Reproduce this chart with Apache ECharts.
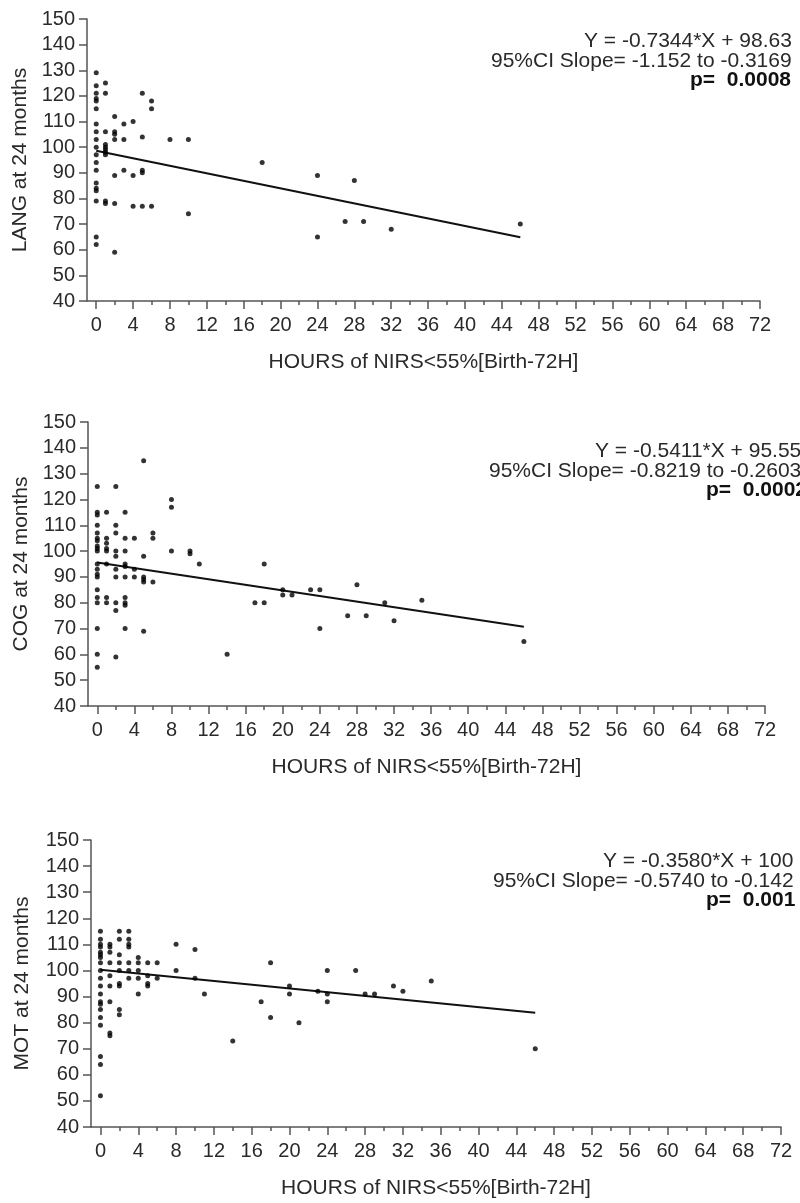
<!DOCTYPE html>
<html><head><meta charset="utf-8">
<script src="https://cdn.jsdelivr.net/npm/echarts@6/dist/echarts.min.js"></script>
<style>html,body{margin:0;padding:0;background:#fff}#c{width:800px;height:1203px}</style>
</head><body><div id="c"></div>
<script>
// ---- tick labels ----
const xMajorTicks = [0,4,8,12,16,20,24,28,32,36,40,44,48,52,56,60,64,68,72];
const xMinorTicks = [2,6,10,14,18,22,26,30,34,38,42,46,50,54,58,62,66,70];
const xAxisTitle = 'HOURS of NIRS<55%[Birth-72H]';
const yTitles = ['LANG at 24 months', 'COG at 24 months', 'MOT at 24 months'];

// ---- LANG panel: hours (x) and the scores observed at each hour ----
const langHours  = [0,1,2,3,4,5,6,8,10,18,24,27,28,29,32,46];
const langScores = [
  [129,124,121,119,118,115,109,106,103,100,97,94,91,86,84,83,79,65,62],
  [125,121,106,101,100,99,98,97,79,78],
  [112,106,105,103,89,78,59],
  [109,103,91],
  [110,89,77],
  [121,104,91,90,77],
  [118,115,77],
  [103],
  [103,74],
  [94],
  [89,65],
  [71],
  [87],
  [71],
  [68],
  [70]
];

// ---- COG panel ----
const cogHours  = [0,1,2,3,4,5,6,8,10,11,14,17,18,20,21,23,24,27,28,29,31,32,35,46];
const cogScores = [
  [125,115,114,110,107,105,104,102,101,100,95,93,91,90,85,82,80,70,60,55],
  [115,105,103,101,100,95,82,80],
  [125,110,107,100,98,93,90,80,77,59],
  [115,105,100,95,94,90,82,80,79,70],
  [105,93,90],
  [135,98,90,89,88,69],
  [107,105,88],
  [120,117,100],
  [100,99],
  [95],
  [60],
  [80],
  [95,80],
  [85,83],
  [83],
  [85],
  [85,70],
  [75],
  [87],
  [75],
  [80],
  [73],
  [81],
  [65]
];

// ---- MOT panel ----
const motHours  = [0,1,2,3,4,5,6,8,10,11,14,17,18,20,21,23,24,27,28,29,31,32,35,46];
const motScores = [
  [115,112,110,109,107,106,105,103,100,97,94,91,88,87,85,82,79,67,64,52],
  [110,109,107,103,98,94,88,76,75],
  [115,112,106,103,100,95,94,85,83],
  [115,112,110,109,103,100,97],
  [105,103,100,97,91],
  [103,98,95,94],
  [103,97],
  [110,100],
  [108,97],
  [91],
  [73],
  [88],
  [103,82],
  [94,91],
  [80],
  [92],
  [100,91,88],
  [100],
  [91],
  [91],
  [94],
  [92],
  [96],
  [70]
];

// ---- regression fits ----
const fitSlopes     = [-0.7344, -0.5411, -0.3580];
const fitIntercepts = [98.63, 95.55, 100.3];

// ---- annotation texts ----
const eqTexts    = ['Y = -0.7344*X + 98.63', 'Y = -0.5411*X + 95.55', 'Y = -0.3580*X + 100'];
const ciTexts    = ['95%CI Slope= -1.152 to -0.3169', '95%CI Slope= -0.8219 to -0.2603', '95%CI Slope= -0.5740 to -0.142'];
const pTexts     = ['p=  0.0008', 'p=  0.0002', 'p=  0.001'];

const FONT = '"Liberation Sans", Arial, Helvetica, sans-serif';
const AX = '#555';
const TXT = '#2a2a2a';

function pairs(hours, scores) {
  const out = [];
  hours.forEach((h, i) => scores[i].forEach(s => out.push([h, s])));
  return out;
}
const panels = [
  {hours: langHours, scores: langScores},
  {hours: cogHours, scores: cogScores},
  {hours: motHours, scores: motScores}
];

const grids = [
  {left: 87, top: 19, width: 673, height: 282},
  {left: 88, top: 422, width: 677, height: 284},
  {left: 91, top: 840, width: 690, height: 287}
];
const yNameGaps = [56, 56, 58];

const xAxes = [], yAxes = [], series = [];
grids.forEach((g, i) => {
  xAxes.push({
    gridIndex: i, type: 'value', min: -1, max: 72,
    axisLine: {show: true, onZero: false, lineStyle: {color: AX, width: 1.5}},
    axisTick: {show: true, customValues: xMajorTicks, length: 8, lineStyle: {color: AX, width: 1.5}},
    axisLabel: {customValues: xMajorTicks, fontSize: 20, color: TXT, margin: 14, fontFamily: FONT},
    splitLine: {show: false},
    name: xAxisTitle, nameLocation: 'middle', nameGap: 51,
    nameTextStyle: {fontSize: 21, color: TXT, fontFamily: FONT}
  });
  xAxes.push({
    gridIndex: i, type: 'value', min: -1, max: 72, position: 'bottom',
    axisLine: {show: false, onZero: false},
    axisTick: {show: true, customValues: xMinorTicks, length: 4, lineStyle: {color: AX, width: 1.5}},
    axisLabel: {show: false},
    splitLine: {show: false}
  });
  yAxes.push({
    gridIndex: i, type: 'value', min: 40, max: 150, interval: 10,
    axisLine: {show: true, onZero: false, lineStyle: {color: AX, width: 1.5}},
    axisTick: {show: true, length: 8, lineStyle: {color: AX, width: 1.5}},
    axisLabel: {fontSize: 20, color: TXT, margin: 12, fontFamily: FONT},
    splitLine: {show: false},
    name: yTitles[i], nameLocation: 'middle', nameGap: yNameGaps[i],
    nameTextStyle: {fontSize: 21, color: TXT, fontFamily: FONT}
  });
  const pts = pairs(panels[i].hours, panels[i].scores);
  series.push({
    type: 'scatter', xAxisIndex: i * 2, yAxisIndex: i,
    data: pts, symbol: 'circle', symbolSize: 5,
    itemStyle: {color: '#000'}, silent: true, z: 3
  });
  const hs = panels[i].hours;
  const x0 = Math.min(...hs), x1 = Math.max(...hs);
  series.push({
    type: 'line', xAxisIndex: i * 2, yAxisIndex: i,
    data: [[x0, fitIntercepts[i] + fitSlopes[i] * x0], [x1, fitIntercepts[i] + fitSlopes[i] * x1]],
    showSymbol: false, symbol: 'none',
    lineStyle: {color: '#111', width: 2}, silent: true, z: 2
  });
});

// annotation positions (left-aligned start x, first line centre y)
const annot = [
  {x1: 584, x2: 491, x3: 690, y: 41},
  {x1: 595, x2: 489, x3: 706, y: 451},
  {x1: 603, x2: 493, x3: 706, y: 861}
];
const graphics = [];
annot.forEach((a, i) => {
  graphics.push({type: 'text', style: {text: eqTexts[i], x: a.x1, y: a.y, font: '21px ' + FONT, fill: TXT, align: 'left', verticalAlign: 'middle'}});
  graphics.push({type: 'text', style: {text: ciTexts[i], x: a.x2, y: a.y + 20, font: '21px ' + FONT, fill: TXT, align: 'left', verticalAlign: 'middle'}});
  graphics.push({type: 'text', style: {text: pTexts[i], x: a.x3, y: a.y + 39.5, font: 'bold 21px ' + FONT, fill: '#111', align: 'left', verticalAlign: 'middle'}});
});

const chart = echarts.init(document.getElementById('c'), null, {renderer: 'canvas'});
chart.setOption({
  animation: false,
  backgroundColor: '#fff',
  grid: grids,
  xAxis: xAxes,
  yAxis: yAxes,
  series: series,
  graphic: graphics
});
</script>
</body></html>
